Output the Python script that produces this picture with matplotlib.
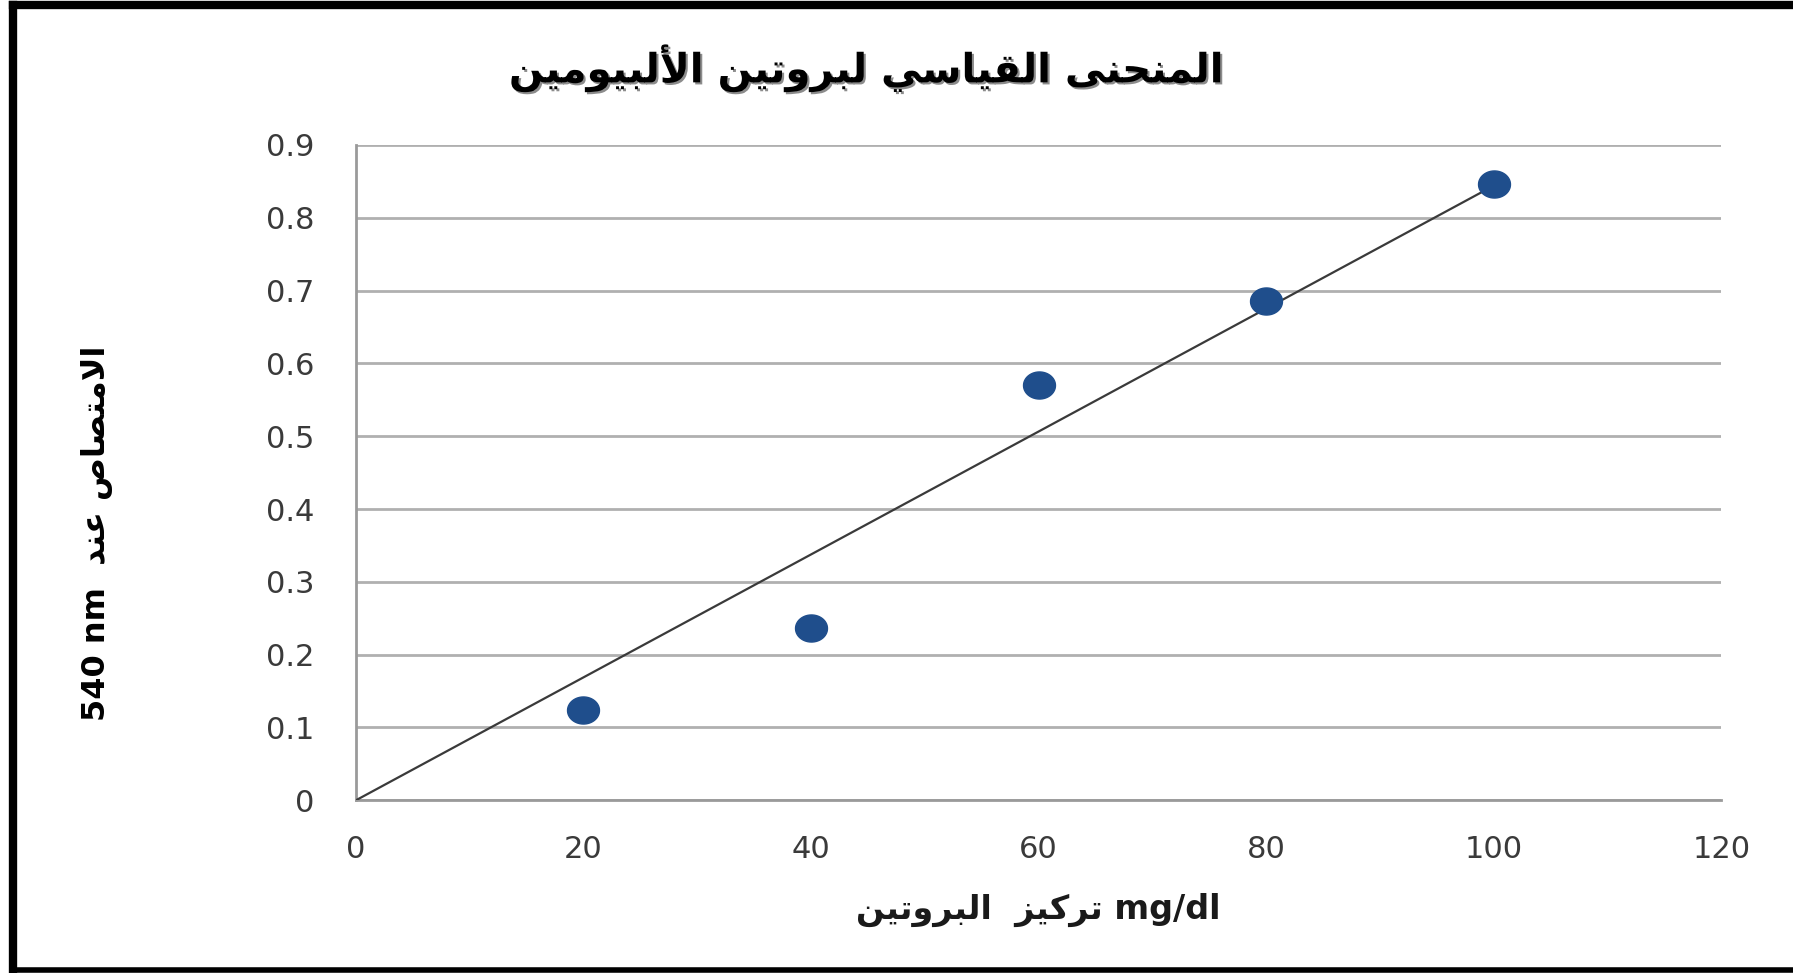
import numpy as np
import matplotlib
matplotlib.use("Agg")
import matplotlib.pyplot as plt
from matplotlib.lines import Line2D
from matplotlib.path import Path
import matplotlib.patheffects as pe

# data
tarkiz = [20, 40, 60, 80, 100]          # mg/dl
imtisas = [0.124, 0.237, 0.571, 0.686, 0.846]
x_ticks = [0, 20, 40, 60, 80, 100, 120]
y_ticks = [0, 0.1, 0.2, 0.3, 0.4, 0.5, 0.6, 0.7, 0.8, 0.9]
y_labels = ["0", "0.1", "0.2", "0.3", "0.4", "0.5", "0.6", "0.7", "0.8", "0.9"]

title_txt = "المنحنى القياسي لبروتين الألبيومين"
ylab_txt = "الامتصاص عند"
xlab_txt = "تركيز  البروتين"

# matplotlib has no arabic shaping -> pick presentation forms by hand
FORMS = {
    'ا': ('\uFE8D', '\uFE8E', None, None),
    'أ': ('\uFE83', '\uFE84', None, None),
    'ب': ('\uFE8F', '\uFE90', '\uFE91', '\uFE92'),
    'ت': ('\uFE95', '\uFE96', '\uFE97', '\uFE98'),
    'ح': ('\uFEA1', '\uFEA2', '\uFEA3', '\uFEA4'),
    'د': ('\uFEA9', '\uFEAA', None, None),
    'ر': ('\uFEAD', '\uFEAE', None, None),
    'ز': ('\uFEAF', '\uFEB0', None, None),
    'س': ('\uFEB1', '\uFEB2', '\uFEB3', '\uFEB4'),
    'ص': ('\uFEB9', '\uFEBA', '\uFEBB', '\uFEBC'),
    'ع': ('\uFEC9', '\uFECA', '\uFECB', '\uFECC'),
    'ق': ('\uFED5', '\uFED6', '\uFED7', '\uFED8'),
    'ك': ('\uFED9', '\uFEDA', '\uFEDB', '\uFEDC'),
    'ل': ('\uFEDD', '\uFEDE', '\uFEDF', '\uFEE0'),
    'م': ('\uFEE1', '\uFEE2', '\uFEE3', '\uFEE4'),
    'ن': ('\uFEE5', '\uFEE6', '\uFEE7', '\uFEE8'),
    'و': ('\uFEED', '\uFEEE', None, None),
    'ى': ('\uFEEF', '\uFEF0', None, None),
    'ي': ('\uFEF1', '\uFEF2', '\uFEF3', '\uFEF4'),
}
LAM_ALEF = {'ا': ('\uFEFB', '\uFEFC'), 'أ': ('\uFEF7', '\uFEF8')}


def ar(s):
    out = []
    i = 0
    while i < len(s):
        c = s[i]
        if c not in FORMS:
            out.append(c)
            i += 1
            continue
        prev = s[i - 1] if i > 0 else None
        jp = prev in FORMS and FORMS[prev][2] is not None
        if c == 'ل' and i + 1 < len(s) and s[i + 1] in LAM_ALEF:
            out.append(LAM_ALEF[s[i + 1]][1 if jp else 0])
            i += 2
            continue
        nxt = s[i + 1] if i + 1 < len(s) else None
        jn = FORMS[c][2] is not None and nxt in FORMS
        iso, fin, ini, med = FORMS[c]
        if jp and jn:
            out.append(med)
        elif jp:
            out.append(fin)
        elif jn:
            out.append(ini)
        else:
            out.append(iso)
        i += 1
    return "".join(out)[::-1]


fig = plt.figure(figsize=(17.93, 9.73), dpi=100)
ax = fig.add_axes([0.1985, 0.1775, 0.7615, 0.6735])

# trendline through origin (least squares)
xs = np.array(tarkiz, dtype=float)
ys = np.array(imtisas)
k = np.sum(xs * ys) / np.sum(xs * xs)
ax.plot([0, 100], [0, k * 100], color="#3a3a3a", lw=1.6, zorder=3)

# slightly wide dots like the original
t = np.linspace(0, 2 * np.pi, 60)
ell = Path(np.column_stack([1.18 * np.cos(t), np.sin(t)]))
ax.plot(tarkiz, imtisas, ls="none", marker=ell, ms=23, color="#1f4e8c",
        mec="#1f4e8c", zorder=4)

ax.set_xlim(0, 120)
ax.set_ylim(0, 0.9)
ax.set_xticks(x_ticks)
ax.set_yticks(y_ticks)
ax.set_yticklabels(y_labels)
ax.grid(axis="y", color="#b0b0b0", lw=2)
ax.set_axisbelow(True)
for s in ["top", "right"]:
    ax.spines[s].set_visible(False)
ax.spines["left"].set_color("#9a9a9a")
ax.spines["left"].set_linewidth(2)
ax.spines["bottom"].set_color("#9a9a9a")
ax.spines["bottom"].set_linewidth(2)
ax.tick_params(length=0, labelsize=22, colors="#3a3a3a")
ax.tick_params(axis="y", pad=30)
ax.tick_params(axis="x", pad=25)

fig.text(0.483, 0.930, ar(title_txt), ha="center", va="center", fontsize=29,
         fontweight="bold", color="black",
         path_effects=[pe.SimplePatchShadow(offset=(1.5, -1.5), alpha=0.45), pe.Normal()])
fig.text(0.054, 0.452, "540 nm  " + ar(ylab_txt), rotation=90, ha="center", va="center",
         fontsize=23, fontweight="bold", color="black")
fig.text(0.579, 0.065, ar(xlab_txt) + " mg/dl", ha="center", va="center",
         fontsize=24, fontweight="bold", color="#1a1a1a")

# black frame (no right side, like the cropped screenshot)
fig.add_artist(Line2D([0.0071, 1.0], [0.9945, 0.9945], color="black", lw=6))
fig.add_artist(Line2D([0.0071, 0.0071], [0.0, 0.9945], color="black", lw=6))
fig.add_artist(Line2D([0.0071, 1.0], [0.003, 0.003], color="black", lw=4))

fig.savefig("out.png", dpi=100)
